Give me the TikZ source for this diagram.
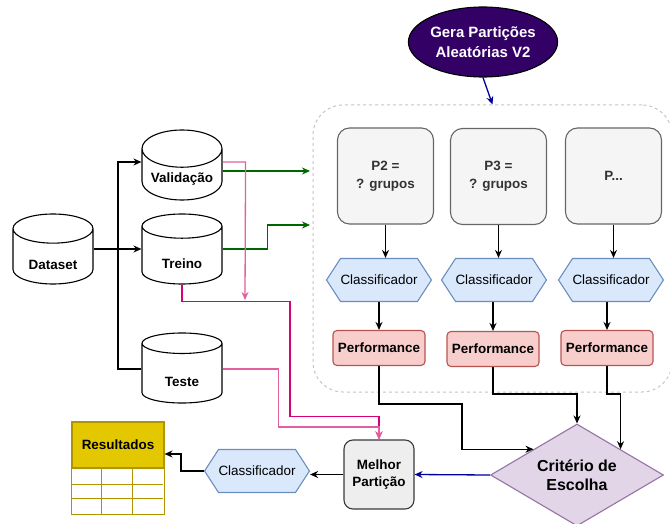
\documentclass[tikz,border=0pt]{standalone}
\usepackage{fontspec}
\setmainfont{Liberation Sans}
\usepackage{xcolor}
\usepackage{tikz}
\usetikzlibrary{calc,shapes.geometric,shapes.symbols,arrows.meta}

\definecolor{boxfill}{HTML}{F5F5F5}
\definecolor{boxline}{HTML}{666666}
\definecolor{boxtext}{HTML}{333333}
\definecolor{clffill}{HTML}{DAE8FC}
\definecolor{clfline}{HTML}{6C8EBF}
\definecolor{perffill}{HTML}{F8CECC}
\definecolor{perfline}{HTML}{B85450}
\definecolor{critfill}{HTML}{E1D5E7}
\definecolor{critline}{HTML}{9673A6}
\definecolor{genfill}{HTML}{330066}
\definecolor{resfill}{HTML}{E3C800}
\definecolor{resline}{HTML}{B09500}
\definecolor{bestfill}{HTML}{EEEEEE}
\definecolor{bestline}{HTML}{36393D}
\definecolor{dashline}{HTML}{C4C4C4}
\definecolor{valgreen}{HTML}{006600}
\definecolor{pickblue}{HTML}{000099}
\definecolor{pinkdark}{HTML}{D8007A}
\definecolor{pinklight}{HTML}{E2609E}

\newcommand{\dblabel}[2][13bp]{\raisebox{-#1}[0pt][0pt]{#2}}

\begin{document}
\begin{tikzpicture}[
    x=1bp,y=-1bp,>={Stealth[length=8bp,width=7bp]},
    data node/.style={draw,cylinder,shape border rotate=90,aspect=0.6,
      anchor=shape center,
      minimum width=80bp,minimum height=70bp,inner sep=0bp,line width=1.1bp,
      font=\fontsize{13.5}{16}\selectfont\bfseries},
    part node/.style={draw=boxline,fill=boxfill,rounded corners=12bp,
      minimum width=96bp,minimum height=96bp,line width=1.1bp,align=center,
      text=boxtext,font=\fontsize{13.5}{18}\selectfont\bfseries},
    clf node/.style={draw=clfline,fill=clffill,signal,signal to=west and east,
      signal pointer angle=114,minimum width=104bp,minimum height=43bp,
      inner sep=0bp,line width=1.1bp,font=\fontsize{13.5}{16}\selectfont},
    perf node/.style={draw=perfline,fill=perffill,rounded corners=4bp,
      minimum width=92bp,minimum height=35bp,inner sep=0bp,line width=1.1bp,
      font=\fontsize{13.5}{16}\selectfont\bfseries},
    flow arrow/.style={->,line width=1.3bp},
    val arrow/.style={->,line width=1.3bp,valgreen},
    test arrow/.style={->,line width=1.3bp}
  ]
    \useasboundingbox (0,0) rectangle (670,524);

    \node[draw=dashline,dash pattern=on 3bp off 3bp,rounded corners=30bp,
      minimum width=359bp,minimum height=287bp,line width=1bp] (part) at (492.5,248.5) {};

    \node[data node] (dataset) at (53,249) {\dblabel{Dataset}};
    \node[data node] (valid) at (182,165) {\dblabel[8bp]{Validação}};
    \node[data node] (treino) at (182,249) {\dblabel{Treino}};
    \node[data node] (teste) at (182,368) {\dblabel{Teste}};

    \node[draw,ellipse,fill=genfill,text=white,minimum width=138bp,minimum height=70bp,
      inner sep=0bp,line width=1.1bp,align=center,
      font=\fontsize{15}{20}\selectfont\bfseries] (gera) at (483,42) {Gera Partições\\Aleatórias V2};

    \node[part node] (p2) at (385.5,176) {P2 =\\? grupos};
    \node[part node] (p3) at (498.5,176.5) {P3 =\\? grupos};
    \node[part node] (pn) at (613.5,176) {P...};

    \node[clf node] (clf2) at (379,280) {Classificador};
    \node[clf node] (clf3) at (494,280) {Classificador};
    \node[clf node] (clfn) at (611,280) {Classificador};

    \node[perf node] (perf2) at (379,348) {Performance};
    \node[perf node] (perf3) at (493,349) {Performance};
    \node[perf node] (perfn) at (607,348) {Performance};

    \node[draw=critline,fill=critfill,diamond,aspect=1.7,minimum width=173bp,
      minimum height=102bp,inner sep=0bp,line width=1.1bp,align=center,
      font=\fontsize{16}{19}\selectfont\bfseries] (crit) at (577,475) {Critério de\\Escolha};

    \node[draw=bestline,fill=bestfill,rounded corners=9bp,minimum width=70bp,
      minimum height=69bp,inner sep=0bp,line width=1.1bp,align=center,
      font=\fontsize{13.5}{17}\selectfont\bfseries] (melhor) at (379,474.5) {Melhor\\Partição};

    \node[clf node] (clfbest) at (257,471) {Classificador};

    \node[draw=resline,fill=resfill,minimum width=92bp,minimum height=46bp,
      inner sep=0bp,line width=1.1bp,
      font=\fontsize{13.5}{16}\selectfont\bfseries] (res) at (118,445) {Resultados};
    \draw[resline,line width=1.1bp] (res.south west) rectangle ($(res.south east)+(0,46)$);
    \foreach \dy in {16,30}
      \draw[resline,line width=1.1bp] ($(res.south west)+(0,\dy)$) -- ++(92,0);
    \foreach \dx in {30,61}
      \draw[resline,line width=1.1bp] ($(res.south west)+(\dx,0)$) -- ++(0,46);

    \coordinate (split) at (118,249);
    \coordinate (in1) at (310,171);
    \coordinate (in2) at (310,225);
    \coordinate (tmerge) at (245,300);

    \draw[flow arrow] (dataset.east |- split) -- (treino.west |- split);
    \draw[flow arrow] (split) |- (valid.west |- 0,162);
    \draw[line width=1.3bp] (split) |- (teste.west |- 0,369);

    \draw[val arrow] (valid.east |- in1) -- (in1);
    \draw[val arrow] (treino.east |- split) -- ++(45,0) |- (in2);

    \draw[test arrow,pinklight] (valid.east |- 0,162) -- ++(23,0) -- (tmerge);
    \draw[test arrow,pinkdark] (treino.south) -- ++(0,17) -- ++(108,0) -- ++(0,115) -| (melhor.north);
    \draw[test arrow,pinklight] (teste.east |- 0,369) -- ++(56,0) -- ++(0,58) -| (melhor.north);

    \draw[flow arrow,pickblue] (gera.south) -- (part.north);

    \draw[flow arrow] (p2.south) -- (p2.south |- clf2.north);
    \draw[flow arrow] (p3.south) -- (p3.south |- clf3.north);
    \draw[flow arrow] (pn.south) -- (pn.south |- clfn.north);
    \draw[flow arrow] (clf2.south) -- (perf2.north);
    \draw[flow arrow] (perf3.north |- clf3.south) -- (perf3.north);
    \draw[flow arrow] (perfn.north |- clfn.south) -- (perfn.north);

    \draw[flow arrow] (perf2.south) -- ++(0,38) -- ++(83,0) |- (crit.north west);
    \draw[flow arrow] (perf3.south) -- ++(0,27) -| (crit.north);
    \draw[flow arrow] (perfn.south) -- ++(0,28) -| (crit.north east);

    \draw[flow arrow,pickblue] (crit.west) -- (melhor.east);
    \draw[flow arrow] (melhor.west) -- (melhor.west -| clfbest.east);
    \draw[flow arrow] (clfbest.west) -- ++(-23,0) |- ([yshift=-9bp]res.east);
  \end{tikzpicture}
\end{document}
